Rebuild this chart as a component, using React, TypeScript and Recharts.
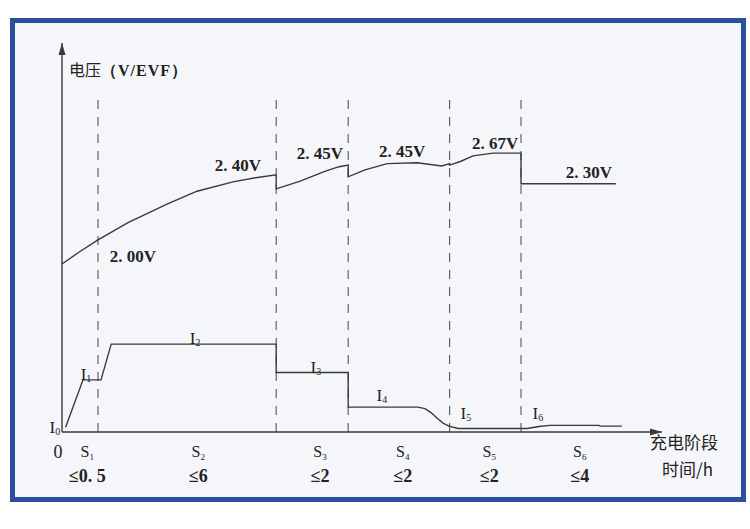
import React from 'react'
import { LineChart, Line, XAxis, YAxis, ReferenceLine, ReferenceDot } from 'recharts'

// ── データ（x: 時間軸 0–100, v: 相対高さ 0–100） ─────────────────
const voltageX = [0, 3, 6, 11, 17.5, 22.5, 28.5, 32, 35.7, 35.7, 39.7, 43.8, 46.2, 47.7, 47.7, 50.5, 54.2, 59.2, 63.3, 64.6, 64.6, 66.5, 68.5, 71.8, 76.5, 76.5, 92.3]
const voltageV = [43.2, 46.4, 49.4, 53.8, 58.6, 61.9, 64.3, 65.3, 66.1, 62.5, 64.5, 67.0, 68.2, 68.6, 65.6, 67.4, 69.0, 69.2, 68.4, 69.0, 68.6, 69.6, 71.0, 71.7, 71.7, 63.8, 63.8]

const currentX = [0.6, 3.5, 6.5, 8.2, 35.7, 35.7, 47.7, 47.7, 59.3, 60.5, 61.5, 62.5, 63.5, 64.5, 66, 76.5, 77.5, 79.5, 81.3, 89.5, 89.7, 93.3]
const currentV = [1.2, 13.4, 13.4, 22.6, 22.6, 15.3, 15.3, 6.4, 6.4, 6.0, 5.0, 3.6, 2.3, 1.5, 0.9, 0.9, 0.9, 1.4, 1.7, 1.7, 1.5, 1.5]

// 段階の境界（破線）
const stageBounds = [6, 35.7, 47.7, 64.6, 76.5]

// X軸ラベル
const stageTicks = [4.2, 22.7, 43.0, 56.8, 71.2, 86.3]
const stageNames = ['1', '2', '3', '4', '5', '6']
const stageHours = ['≤0. 5', '≤6', '≤2', '≤2', '≤2', '≤4']

// 電圧ラベル
const voltText = ['2. 00V', '2. 40V', '2. 45V', '2. 45V', '2. 67V', '2. 30V']
const voltAtX = [11.8, 29.3, 43.0, 56.7, 72.2, 87.8]
const voltAtV = [45.2, 68.6, 71.7, 72.2, 74.3, 66.8]

// 電流ラベル I0–I6
const currSub = ['0', '1', '2', '3', '4', '5', '6']
const currAtX = [-1.2, 4.0, 22.2, 42.3, 53.3, 67.3, 79.3]
const currAtV = [1.3, 14.9, 24.2, 16.8, 9.5, 4.9, 4.9]

const voltageData = voltageX.map((x, i) => ({ x, v: voltageV[i] }))
const currentData = currentX.map((x, i) => ({ x, v: currentV[i] }))

const INK = '#3a3a3a'
const SERIF = "'Liberation Serif', 'DejaVu Serif', serif"
const CJK = "'Noto Sans CJK SC', sans-serif"

// ── X軸の目盛り ────────────────────────────────────────────────
// eslint-disable-next-line @typescript-eslint/no-explicit-any
function StageTick({ x, y, payload, index }: any) {
  const i = typeof index === 'number' ? index : stageTicks.indexOf(payload.value)
  return (
    <g>
      <text x={x} y={y + 17} textAnchor="middle" fontFamily={SERIF} fontSize={16} fill="#222">
        <tspan>S</tspan>
        <tspan fontSize={9} dy={3}>{stageNames[i]}</tspan>
      </text>
      <text x={x} y={y + 42} textAnchor="middle" fontFamily={SERIF} fontSize={18} fontWeight={600} fill="#222">
        {stageHours[i]}
      </text>
    </g>
  )
}

export default function App() {
  return (
    <div style={{ position: 'absolute', left: 0, top: 0, width: 750, height: 529, background: '#fff' }}>
      {/* 枠 */}
      <div style={{
        position: 'absolute', left: 10, top: 18, width: 726, height: 474,
        border: '5px solid #2c4f9c', background: '#f5f6f9',
      }} />
      <div style={{ position: 'absolute', left: 0, top: 0 }}>
        <LineChart width={750} height={529} margin={{ top: 43, right: 88, bottom: 37, left: 62 }}>
          <XAxis
            dataKey="x"
            type="number"
            domain={[0, 100]}
            ticks={stageTicks}
            interval={0}
            height={60}
            tickLine={false}
            axisLine={{ stroke: INK, strokeWidth: 1.4 }}
            tick={<StageTick />}
          />
          <YAxis type="number" domain={[0, 100]} hide />

          {/* Y軸 */}
          <ReferenceLine x={0} stroke={INK} strokeWidth={1.4} />

          {/* 段階境界の破線 */}
          {stageBounds.map((b) => (
            <ReferenceLine
              key={b}
              segment={[{ x: b, y: 0 }, { x: b, y: 87.2 }]}
              stroke="#555"
              strokeWidth={1.1}
              strokeDasharray="9 8"
            />
          ))}

          {/* 電圧・電流 */}
          <Line data={voltageData} dataKey="v" type="linear" stroke={INK} strokeWidth={1.4} dot={false} isAnimationActive={false} />
          <Line data={currentData} dataKey="v" type="linear" stroke={INK} strokeWidth={1.4} dot={false} isAnimationActive={false} />

          {/* 矢印 */}
          <ReferenceDot
            x={100} y={0} r={0} ifOverflow="visible"
            shape={(p: any) => (
              <polygon points={`${p.cx},${p.cy} ${p.cx - 12},${p.cy - 3.5} ${p.cx - 12},${p.cy + 3.5}`} fill={INK} />
            )}
          />
          <ReferenceDot
            x={0} y={100} r={0} ifOverflow="visible"
            shape={(p: any) => (
              <polygon points={`${p.cx},${p.cy} ${p.cx - 3.5},${p.cy + 12} ${p.cx + 3.5},${p.cy + 12}`} fill={INK} />
            )}
          />

          {/* 軸タイトル */}
          <ReferenceDot
            x={0} y={100} r={0} ifOverflow="visible"
            shape={(p: any) => (
              <text x={p.cx + 7} y={p.cy + 33} fill="#222">
                <tspan fontFamily={CJK} fontSize={16}>电压</tspan>
                <tspan fontFamily={SERIF} fontSize={16} fontWeight={600} letterSpacing={1}>（V/EVF）</tspan>
              </text>
            )}
          />
          <ReferenceDot
            x={0} y={0} r={0} ifOverflow="visible"
            shape={(p: any) => (
              <text x={p.cx - 4} y={p.cy + 26} textAnchor="middle" fontFamily={SERIF} fontSize={18} fill="#222">0</text>
            )}
          />
          <ReferenceDot
            x={100} y={0} r={0} ifOverflow="visible"
            shape={(p: any) => (
              <g fontFamily={CJK} fontSize={17} fill="#222">
                <text x={p.cx - 12} y={p.cy + 17}>充电阶段</text>
                <text x={p.cx} y={p.cy + 44}>时间/h</text>
              </g>
            )}
          />

          {/* 電圧ラベル */}
          {voltText.map((t, i) => (
            <ReferenceDot
              key={'v' + i}
              x={voltAtX[i]} y={voltAtV[i]} r={0} ifOverflow="visible"
              shape={(p: any) => (
                <text x={p.cx} y={p.cy + 6} textAnchor="middle" fontFamily={SERIF} fontSize={17} fontWeight={600} fill="#222">{t}</text>
              )}
            />
          ))}

          {/* 電流ラベル */}
          {currSub.map((s, i) => (
            <ReferenceDot
              key={'i' + i}
              x={currAtX[i]} y={currAtV[i]} r={0} ifOverflow="visible"
              shape={(p: any) => (
                <text x={p.cx} y={p.cy + 6} textAnchor="middle" fontFamily={SERIF} fontSize={17} fill="#222">
                  <tspan>I</tspan>
                  <tspan fontSize={10} dy={2}>{s}</tspan>
                </text>
              )}
            />
          ))}
        </LineChart>
      </div>
    </div>
  )
}
